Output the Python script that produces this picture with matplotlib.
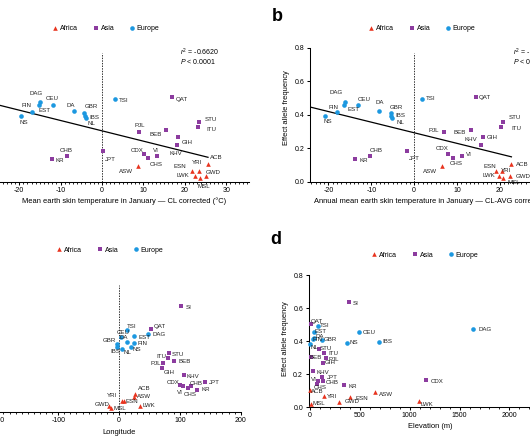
import numpy as np
import matplotlib
matplotlib.use("Agg")
import matplotlib.pyplot as plt
from matplotlib.ticker import MultipleLocator, FormatStrFormatter
from matplotlib.lines import Line2D

plt.rcParams['font.family'] = ['Liberation Sans', 'DejaVu Sans']
plt.rcParams['axes.unicode_minus'] = False
plt.rcParams['mathtext.fontset'] = 'custom'
plt.rcParams['mathtext.rm'] = 'Liberation Sans'
plt.rcParams['mathtext.it'] = 'Liberation Sans:italic'

# ---------------- data ----------------
pops = ['ACB', 'ASW', 'ESN', 'GWD', 'LWK', 'MSL', 'YRI',
        'BEB', 'CDX', 'CHB', 'CHS', 'GIH', 'ITU', 'JPT', 'KHV', 'PJL', 'STU', 'QAT', 'KR', 'VI', 'SI',
        'CEU', 'FIN', 'GBR', 'IBS', 'TSI', 'DAG', 'DA', 'EST', 'NL', 'NS']
region = ['Africa'] * 7 + ['Asia'] * 14 + ['Europe'] * 10
freq = [0.105, 0.092, 0.062, 0.032, 0.036, 0.020, 0.064,
        0.306, 0.165, 0.155, 0.141, 0.268, 0.325, 0.182, 0.220, 0.295, 0.355, 0.503, 0.133, 0.155, 0.640,
        0.455, 0.415, 0.410, 0.395, 0.495, 0.475, 0.422, 0.458, 0.382, 0.390]
temp_jan_cl = [25.6, 8.6, 21.7, 25.1, 22.5, 23.7, 23.4,
               15.5, 10.1, -8.5, 11.1, 18.3, 23.1, 0.2, 18.1, 9.0, 23.4, 16.8, -12.0, 13.2, np.nan,
               -11.9, -16.8, -4.3, -4.0, 3.1, -15.0, -6.8, -15.3, -3.9, -19.6]
temp_annual_clavg = [22.7, 6.6, 19.0, 22.3, 19.7, 20.8, 20.6,
                     13.3, 8.0, -10.4, 9.1, 16.1, 20.3, -1.7, 15.5, 7.0, 20.7, 14.5, -13.8, 11.2, np.nan,
                     -13.0, -17.9, -5.4, -5.3, 1.8, -16.2, -8.1, -16.4, -5.2, -20.9]
longitude = [26.3, 24.7, 8.2, -15.9, 34.5, -13.2, 4.9,
             91.0, 100.3, 118.0, 113.0, 71.2, 80.6, 141.0, 107.4, 72.9, 81.7, 52.0, 128.8, 105.8, 102.5,
             2.8, 25.0, -2.8, -3.8, 12.7, 47.7, 12.7, 24.7, 5.4, 19.7]
elevation = [3, 655, 401, 291, 1093, 10, 140,
             10, 1163, 134, 67, 127, 140, 123, 27, 157, 90, 10, 341, 77, 388,
             495, 30, 117, 692, 83, 1635, 40, 40, 3, 368]
regions = ['Africa', 'Asia', 'Europe']
stats_a = ['$\\it{r}^2$ = -0.6620', '$\\it{P}$ < 0.0001']
stats_b = ['$\\it{r}^2$ = -0.6571', '$\\it{P}$ < 0.0001']

# ---------------- styles / label offsets (pixels) ----------------
colors = {'Africa': '#E8341F', 'Asia': '#8C3C9F', 'Europe': '#1C98E0'}
markers = {'Africa': '^', 'Asia': 's', 'Europe': 'o'}
msize = {'Africa': 11, 'Asia': 10, 'Europe': 11}

off_a = {'DAG': (-4, 9), 'CEU': (0, 6.7), 'FIN': (-6.3, 6.7), 'EST': (6.3, -5.4), 'NS': (3, -6),
         'DA': (-2.7, 5.3), 'GBR': (6.7, 6.3), 'IBS': (9, -1.8), 'NL': (5.7, -5.6), 'TSI': (9, -1.9),
         'QAT': (10, -1.8), 'STU': (12, 3.2), 'ITU': (13.3, -2), 'PJL': (0, 6.3), 'BEB': (-11, -3.6),
         'GIH': (9, -5.9), 'KHV': (-1, -9.1), 'CDX': (-6.7, 4), 'VI': (-1, 5), 'CHS': (8.7, -6.2),
         'CHB': (-0.7, 5.7), 'KR': (7.7, -1.3), 'JPT': (7.3, -8.1), 'ASW': (-11.7, -5.4),
         'ACB': (8.7, 6.8), 'ESN': (-12, 5.3), 'YRI': (-2.3, 8.3), 'LWK': (-12.3, -0.3),
         'GWD': (7.3, 3.6), 'MSL': (3.7, -8.4)}
off_b = {'DAG': (-8.3, 9.4), 'CEU': (5.7, 5.5), 'FIN': (-4.4, 4.9), 'EST': (9.3, -5), 'NS': (3.7, -5.3),
         'DA': (0.7, 8.7), 'GBR': (5.7, 5.3), 'IBS': (9, 0.5), 'NL': (8.3, -4.6), 'TSI': (8.3, -0.2),
         'QAT': (8.3, -0.3), 'STU': (12, 4.9), 'ITU': (15, -1), 'PJL': (-10.3, 1.6), 'BEB': (-11.3, -2.3),
         'KHV': (-9.7, 4.9), 'GIH': (9, -0.9), 'CDX': (-6.7, 5.7), 'VI': (6.7, 1.7), 'CHS': (3.3, -5.9),
         'CHB': (6.3, 5), 'KR': (8.3, -0.6), 'JPT': (7.7, -7.1), 'ASW': (-12, -5.4), 'ACB': (10.7, -0.2),
         'ESN': (-5.7, 4.6), 'YRI': (4, 0.3), 'LWK': (-9.3, 0), 'GWD': (13, -0.4), 'MSL': (10.3, -4.4)}
off_c = {'SI': (7.4, -1), 'QAT': (9.3, 2.4), 'DAG': (10.7, -0.5), 'TSI': (5, 3.9), 'CEU': (2.3, 3.8),
         'DA': (-3.4, 4.5), 'EST': (10, -0.7), 'FIN': (8.4, -0.3), 'NS': (5.7, -1.8), 'GBR': (-8, 4.2),
         'IBS': (-1.7, -5), 'NL': (5.4, -3.9), 'STU': (9.6, -1), 'ITU': (-7, 2), 'PJL': (-8, 0),
         'GIH': (7, -4.7), 'BEB': (10, 0), 'KHV': (8.4, -1), 'CDX': (-7.3, 2.3), 'VI': (-3.3, -6),
         'CHS': (2.3, -6), 'CHB': (5.7, 2.3), 'JPT': (9.3, -1), 'KR': (8.4, 0), 'ACB': (9, 5.6),
         'ASW': (10, 0), 'YRI': (-10.3, 5.3), 'ESN': (7.7, 0), 'GWD': (-7.6, 2), 'MSL': (9, 0),
         'LWK': (9, 0)}
off_d = {'SI': (6.6, -1.6), 'DAG': (12, -0.7), 'CEU': (10, -0.6), 'IBS': (8.3, 0), 'NS': (7.6, 0),
         'CDX': (11.7, -1.7), 'KR': (8.7, -1.3), 'ASW': (10.4, -2.5), 'ESN': (11.7, -2), 'YRI': (8.3, 0),
         'GWD': (12.7, 0), 'LWK': (8.3, -3.6), 'MSL': (8.3, 0), 'ACB': (7.4, -2), 'QAT': (5.7, 2.7),
         'TSI': (6.7, 0), 'EST': (7, 0), 'GBR': (8.3, 0), 'DA': (6, 1), 'FIN': (5, -1), 'NL': (4, -3),
         'STU': (7, 0), 'ITU': (9.3, 0), 'PJL': (8, -1), 'BEB': (5, -1), 'GIH': (7.3, 0),
         'KHV': (10.6, -1.4), 'VI': (-3.7, 1.7), 'JPT': (10, 0), 'CHB': (9, -1.2), 'CHS': (4, -3.5)}

W, H = 530, 442
fig = plt.figure(figsize=(W / 100, H / 100), dpi=100)
fig.patch.set_facecolor('white')


def rect(l, r, b, t):
    return [l / W, 1 - b / H, (r - l) / W, (b - t) / H]


TICK_FS = 5
LAB_FS = 4.4


def style_axes(ax, xmajor, xminor, ylabels=True):
    for s in ['top', 'right']:
        ax.spines[s].set_visible(False)
    for s in ['left', 'bottom']:
        ax.spines[s].set_linewidth(0.75)
    ax.xaxis.set_major_locator(MultipleLocator(xmajor))
    ax.xaxis.set_minor_locator(MultipleLocator(xminor))
    ax.yaxis.set_major_locator(MultipleLocator(0.2))
    ax.yaxis.set_major_formatter(FormatStrFormatter('%.1f'))
    ax.tick_params(axis='both', which='major', direction='out', length=2.4, width=0.75,
                   labelsize=TICK_FS, pad=1.5)
    ax.tick_params(axis='x', which='minor', direction='out', length=1.3, width=0.6)
    ax.tick_params(axis='y', labelleft=ylabels)
    ax.set_ylim(0, 0.8)
    ax.patch.set_alpha(0)


def scatter_panel(ax, xs, offs):
    xs = np.asarray(xs, dtype=float)
    fr = np.asarray(freq)
    reg = np.asarray(region)
    for r in regions:
        m = (reg == r) & ~np.isnan(xs)
        ax.scatter(xs[m], fr[m], marker=markers[r], s=msize[r], color=colors[r],
                   linewidths=0, zorder=3, clip_on=False, label=r)
    for p, x, y in zip(pops, xs, fr):
        if np.isnan(x) or p not in offs:
            continue
        dx, dy = offs[p]
        ax.annotate(p, (x, y), xytext=(dx, dy), textcoords='offset pixels',
                    ha='center', va='center', fontsize=LAB_FS, color='#222222', zorder=4,
                    annotation_clip=False)


def zero_line(ax):
    ax.plot([0, 0], [0, 0.77], ls=(0, (1.5, 1.2)), color='#333333', lw=0.7, zorder=1)


def reg_line(ax, xs, x0):
    xs = np.asarray(xs, dtype=float)
    fr = np.asarray(freq)
    m = ~np.isnan(xs)
    k, b = np.polyfit(xs[m], fr[m], 1)
    xx = np.array([x0, np.nanmax(xs)])
    ax.plot(xx, k * xx + b, color='black', lw=0.9, zorder=2)


def legend(ax, cx, cy):
    handles = [Line2D([], [], ls='none', marker=markers[r], color=colors[r], markersize=3.3,
                      markeredgewidth=0) for r in regions]
    ax.legend(handles, regions, loc='center', bbox_to_anchor=(cx / W, 1 - cy / H),
              bbox_transform=fig.transFigure, ncol=3, frameon=False, fontsize=5,
              handlelength=0.6, handletextpad=0.35, columnspacing=2.3, borderpad=0,
              borderaxespad=0)


# ---------- panel a (its y axis lies beyond the left edge) ----------
ax_a = fig.add_axes(rect(-1.5, 249.0, 181.7, 47.7))
ax_a.set_xlim(-25, 35.5)
style_axes(ax_a, 10, 1, ylabels=False)
zero_line(ax_a)
reg_line(ax_a, temp_jan_cl, -25)
scatter_panel(ax_a, temp_jan_cl, off_a)
ax_a.set_xlabel('Mean earth skin temperature in January \u2014 CL corrected (\u00b0C)', fontsize=5.4,
                labelpad=2)
legend(ax_a, 106.5, 29)
fig.text(180 / W, 1 - 52 / H, stats_a[0], fontsize=5, va='center', ha='left')
fig.text(180 / W, 1 - 61 / H, stats_a[1], fontsize=5, va='center', ha='left')

# ---------- panel b ----------
ax_b = fig.add_axes(rect(310, 565, 181.7, 47.7))
ax_b.set_xlim(-24.3, 35.2)
style_axes(ax_b, 10, 1)
zero_line(ax_b)
reg_line(ax_b, temp_annual_clavg, -24.3)
scatter_panel(ax_b, temp_annual_clavg, off_b)
ax_b.set_xlabel('Annual mean earth skin temperature in January \u2014 CL-AVG corrected (\u00b0C)',
                fontsize=5.4, labelpad=2.5)
ax_b.set_ylabel('Effect allele frequency', fontsize=5.4, labelpad=3)
ax_b.yaxis.set_label_coords(-20 / 255, 0.55)
legend(ax_b, 422.5, 29)
fig.text(513 / W, 1 - 52 / H, stats_b[0], fontsize=5, va='center', ha='left')
fig.text(513 / W, 1 - 61 / H, stats_b[1], fontsize=5, va='center', ha='left')
fig.text(277.5 / W, 1 - 16.5 / H, 'b', fontsize=13, fontweight='bold', ha='center', va='center')

# ---------- panel c (its y axis lies beyond the left edge) ----------
ax_c = fig.add_axes(rect(-2.6, 240.7, 411.7, 280.0))
ax_c.set_xlim(-200, 200)
style_axes(ax_c, 100, 10, ylabels=False)
zero_line(ax_c)
scatter_panel(ax_c, longitude, off_c)
ax_c.set_xlabel('Longitude', fontsize=5.4, labelpad=3.5)
legend(ax_c, 110.5, 250.3)

# ---------- panel d ----------
ax_d = fig.add_axes(rect(308.5, 551.3, 407.0, 275.3))
ax_d.set_xlim(-15, 2420)
style_axes(ax_d, 500, 100)
scatter_panel(ax_d, elevation, off_d)
ax_d.set_xlabel('Elevation (m)', fontsize=5.4, labelpad=2.5)
ax_d.set_ylabel('Effect allele frequency', fontsize=5.4, labelpad=3)
ax_d.yaxis.set_label_coords(-20 / 243, 0.52)
legend(ax_d, 425.5, 255.3)
fig.text(276 / W, 1 - 240 / H, 'd', fontsize=13, fontweight='bold', ha='center', va='center')

fig.savefig('out.png', dpi=100, facecolor='white')
